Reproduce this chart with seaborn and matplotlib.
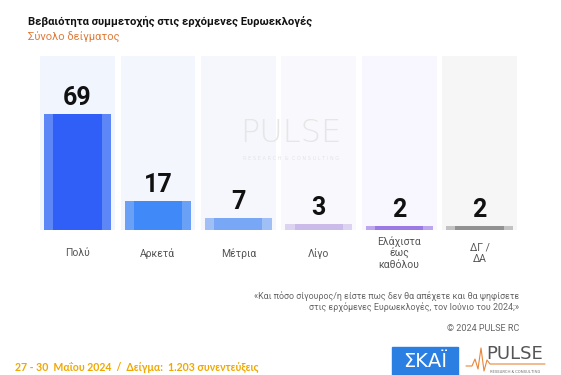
import numpy as np
import pandas as pd
import matplotlib.pyplot as plt
from matplotlib.lines import Line2D
import seaborn as sns

# data
categories = ['Πολύ', 'Αρκετά', 'Μέτρια', 'Λίγο', 'Ελάχιστα\nέως\nκαθόλου', 'ΔΓ /\nΔΑ']
values = [69, 17, 7, 3, 2, 2]

bg_colors = ['#f1f5fe', '#f3f6fd', '#f5f7fd', '#f9f8fd', '#f8f6fe', '#f6f6f6']
outer_colors = ['#5d86f6', '#6ba0f7', '#a0bff6', '#dcd3f0', '#bca7ef', '#c2c2c2']
inner_colors = ['#2f5ff6', '#3f89f8', '#78a8f5', '#cbbbe9', '#9b7ae6', '#919191']

title = 'Βεβαιότητα συμμετοχής στις ερχόμενες Ευρωεκλογές'
subtitle = 'Σύνολο δείγματος'
question = ('«Και πόσο σίγουρος/η είστε πως δεν θα απέχετε και θα ψηφίσετε\n'
            'στις ερχόμενες Ευρωεκλογές, τον Ιούνιο του 2024;»')
footer = '27 - 30  Μαΐου 2024  /  Δείγμα:  1.203 συνεντεύξεις'

sns.set_style('white')
plt.rcParams['font.family'] = ['Roboto', 'DejaVu Sans']

df = pd.DataFrame({'cat': categories, 'val': values})
ymax = 104
df['bg'] = ymax

fig = plt.figure(figsize=(5.61, 3.75), dpi=100)
ax = fig.add_axes([0.0665, 0.388, 0.86, 0.4627])

sns.barplot(data=df, x='cat', y='bg', hue='cat', palette=bg_colors, width=0.93,
            legend=False, ax=ax, saturation=1, linewidth=0)
sns.barplot(data=df, x='cat', y='val', hue='cat', palette=outer_colors, width=0.83,
            legend=False, ax=ax, saturation=1, linewidth=0)
sns.barplot(data=df, x='cat', y='val', hue='cat', palette=inner_colors, width=0.6,
            legend=False, ax=ax, saturation=1, linewidth=0)

for i, v in enumerate(values):
    ax.annotate(str(v), (i, v), xytext=(0, 6.5), textcoords='offset points',
                ha='center', va='baseline', fontsize=18, fontweight='bold',
                color='#111111')

ax.set_xlim(-0.5, 5.5)
ax.set_ylim(0, ymax)
ax.set_xlabel('')
ax.set_ylabel('')
ax.set_yticks([])
ax.tick_params(axis='x', length=0, pad=17, labelsize=7.5, labelcolor='#555555')
for lbl in ax.get_xticklabels():
    lbl.set_va('center')
    lbl.set_linespacing(1.15)
sns.despine(ax=ax, left=True, bottom=True)

# watermark
fig.text(0.519, 0.645, 'PULSE', fontsize=23, color='#e6e6e6', ha='center',
         va='center', family='DejaVu Sans', fontweight='light')
fig.text(0.519, 0.578, 'R E S E A R C H  &  C O N S U L T I N G', fontsize=3.6,
         color='#e4e4e4', ha='center', va='center', family='DejaVu Sans')

# titles
fig.text(0.05, 0.944, title, fontsize=8.1, fontweight='bold', color='#111111',
         va='center')
fig.text(0.05, 0.899, subtitle, fontsize=8, color='#e07b39', va='center')

fig.text(0.925, 0.196, question, fontsize=6.4, color='#666666', ha='right',
         va='center', linespacing=1.2)
fig.text(0.925, 0.125, '© 2024 PULSE RC', fontsize=6.5, color='#666666',
         ha='right', va='center')
fig.text(0.027, 0.021, footer, fontsize=7.6, color='#f0a800', fontweight='bold',
         va='center', family=['Lato', 'Open Sans'])

# logos
fig.patches.append(plt.Rectangle((0.699, 0.0), 0.118, 0.075, color='#2b7fe3',
                                 transform=fig.transFigure, figure=fig))
fig.text(0.758, 0.037, 'ΣΚΑΪ', fontsize=14, color='white', ha='center',
         va='center', family='DejaVu Sans')
fig.text(0.918, 0.055, 'PULSE', fontsize=13, color='#555555', ha='center',
         va='center', family='DejaVu Sans')
fig.text(0.918, 0.009, 'RESEARCH & CONSULTING', fontsize=3, color='#777777',
         ha='center', va='center')
pulse_x = np.array([466, 472, 475, 478, 481, 484, 487, 490, 545]) / 561
pulse_y = 1 - np.array([366, 366, 359, 369, 348, 371, 360, 364, 364]) / 375
fig.add_artist(Line2D(pulse_x, pulse_y, color='#e8873a', lw=0.8,
                      transform=fig.transFigure))

fig.savefig('out.png', dpi=100)
